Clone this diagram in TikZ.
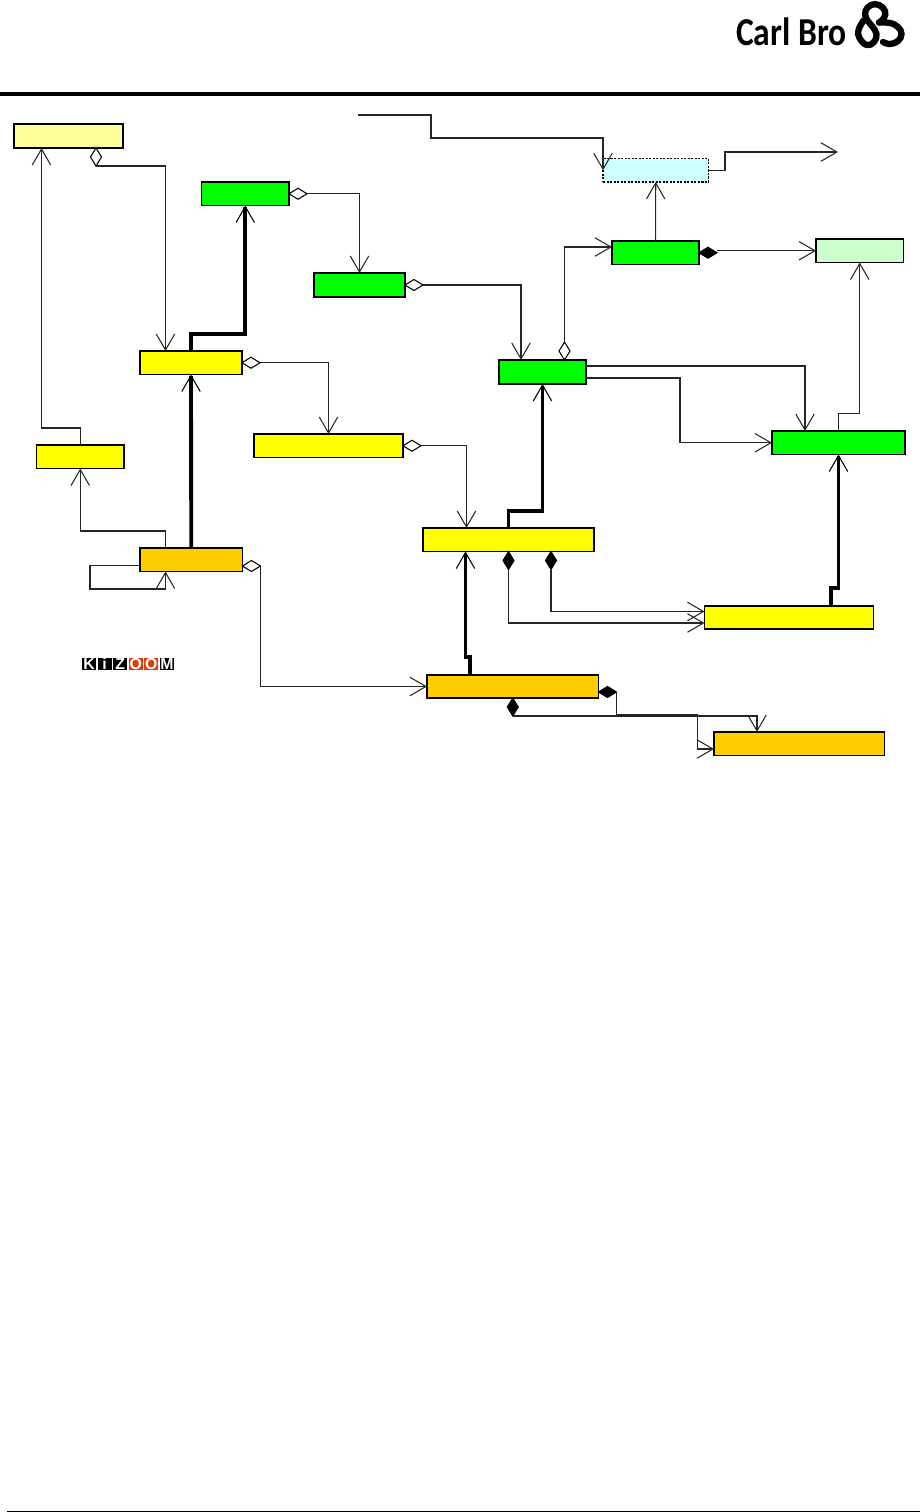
\documentclass[tikz,border=0pt]{standalone}
\usepackage{fontspec}
\newfontfamily\logofont{Carlito}
\newfontfamily\tilefont{Liberation Sans}
\usetikzlibrary{arrows.meta,calc,positioning,shapes.geometric}
\definecolor{palebox}{HTML}{FFFF99}
\definecolor{greenbox}{HTML}{00FF00}
\definecolor{yellowbox}{HTML}{FFFF00}
\definecolor{orangebox}{HTML}{FFCC00}
\definecolor{cyanbox}{HTML}{CCFFFF}
\definecolor{mintbox}{HTML}{CCFFCC}
\definecolor{tilered}{HTML}{D84010}
\tikzset{>={Straight Barb[length=.32cm,width=.37cm,line width=.6pt]},
  classbox/.style={draw=black,line width=.6pt,inner sep=0pt,outer sep=0pt,minimum height=.47cm},
  link/.style={->,draw=black!85,line width=.6pt},
  heavy/.style={->,draw=black,line width=2.2pt},
  dia/.style={shape=diamond,draw=black,line width=.6pt,inner sep=0pt,outer sep=0pt},
  hdia/.style={dia,minimum width=.36cm,minimum height=.22cm},
  vdia/.style={dia,minimum width=.22cm,minimum height=.36cm},
  tile/.style={fill=black,text=white,inner sep=0pt,outer sep=0pt,minimum width=.28cm,minimum height=.25cm,
    font=\tilefont\bfseries\fontsize{9}{9}\selectfont},
  mark line/.style={line width=3.6pt,line cap=round}}

\begin{document}
\begin{tikzpicture}[x=.02cm,y=-.02cm]
\useasboundingbox (0,0) rectangle (920,1512);
\node[anchor=base east,inner sep=0pt,xscale=.85,transform shape,font=\logofont\bfseries\fontsize{22.5}{22.5}\selectfont] (carlbro) at (847,45.7) {Carl Bro};
\draw[mark line] plot[smooth,tension=.7] coordinates {(863.5,20.5) (858.5,30) (859.5,38) (866.7,45) (874,42) (876.5,34) (872,26) (866.5,19) (865.5,11) (871,5) (879,5) (885,11) (884,18) (879,22.5)};
\draw[mark line] plot[smooth,tension=.7] coordinates {(879,22.5) (890,23) (898,27) (901.5,34) (898,41) (890,44) (883,42)};
\draw[line width=1.9pt] (0,94)--(920,94);
\draw[line width=.8pt] (7,1511.3)--(920,1511.3);

\node[classbox,fill=palebox,minimum width=2.18cm,minimum height=.48cm] (pale) at (68.5,136) {};
\node[classbox,fill=greenbox,minimum width=1.75cm] (greenA) at (245.25,193.75) {};
\node[classbox,fill=yellowbox,minimum width=2.04cm] (yellowB) at (191,362.75) {};
\node[classbox,fill=greenbox,minimum width=1.82cm,minimum height=.48cm] (greenC) at (359.5,285) {};
\node[classbox,fill=greenbox,minimum width=1.74cm,minimum height=.48cm] (greenD) at (542.5,372) {};
\node[classbox,fill=cyanbox,dash pattern=on 1.2pt off .8pt,minimum width=2.11cm] (virtual) at (655.75,170.25) {};
\node[classbox,fill=greenbox,minimum width=1.74cm] (greenE) at (655.5,252.75) {};
\node[classbox,fill=mintbox,minimum width=1.75cm] (mint) at (859.75,250.75) {};
\node[classbox,fill=greenbox,minimum width=2.66cm] (greenF) at (838.5,442.75) {};
\node[classbox,fill=yellowbox,minimum width=1.75cm] (yellowG) at (80.25,456.75) {};
\node[classbox,fill=orangebox,minimum width=2.05cm] (orangeH) at (191.25,559.75) {};
\node[classbox,fill=yellowbox,minimum width=2.98cm] (yellowI) at (328.5,445.75) {};
\node[classbox,fill=yellowbox,minimum width=3.42cm] (yellowJ) at (508.5,539.75) {};
\node[classbox,fill=yellowbox,minimum width=3.38cm,minimum height=.46cm] (yellowK) at (789,617.5) {};
\node[classbox,fill=orangebox,minimum width=3.43cm,minimum height=.46cm] (orangeL) at (512.75,686.5) {};
\node[classbox,fill=orangebox,minimum width=3.41cm] (orangeM) at (799.25,743.75) {};

\node[vdia,anchor=north] (dmPale) at ($(pale.south)+(27.5,0)$) {};
\node[hdia,anchor=west] (dmA) at (greenA.east) {};
\node[hdia,anchor=west] (dmB) at (yellowB.east) {};
\node[hdia,anchor=west] (dmC) at (greenC.east) {};
\node[vdia,anchor=south] (dmD) at ($(greenD.north)+(22,0)$) {};
\node[hdia,fill=black,anchor=west] (dmE) at (greenE.east) {};
\node[hdia,anchor=west] (dmI) at (yellowI.east) {};
\node[hdia,anchor=west] (dmH) at ($(orangeH.east)+(0,6.25)$) {};
\node[vdia,fill=black,anchor=north] (dmJa) at (yellowJ.south) {};
\node[vdia,fill=black,anchor=north] (dmJb) at ($(yellowJ.south)+(42.5,0)$) {};
\node[vdia,fill=black,anchor=north] (dmLa) at (orangeL.south) {};
\node[hdia,fill=black,anchor=west] (dmLb) at ($(orangeL.east)+(0,5.5)$) {};

\coordinate (feedIn) at (358,115);
\coordinate (feedOut) at (838,152);

\draw[link] (yellowG.north)--++(0,-17) -| ($(pale.south)+(-27,0)$);
\draw[link] (dmPale.south) -| ($(yellowB.north)+(-25.5,0)$);
\draw[heavy] (yellowB.north)--++(0,-17) -| (greenA.south);
\draw[link] (dmA.east) -| (greenC.north);
\draw[link] (dmC.east) -| ($(greenD.north)+(-21.5,0)$);
\draw[link] (dmD.north) |- ($(greenE.west)+(0,-5.75)$);
\draw[link] (greenE.north)--(virtual.south);
\draw[link] (mint.west -| dmE.east)--(mint.west);
\draw[link] (feedIn)--++(73,0)--++(0,23) -| (virtual.west);
\draw[link] (virtual.east)--++(16.5,0) |- (feedOut);
\draw[link] ($(greenD.east)+(0,-6)$) -| ($(greenF.north)+(-33.5,0)$);
\draw[link] ($(greenD.east)+(0,6)$)--++(94,0) |- (greenF.west);
\draw[link] (greenF.north)--++(0,-17.5) -| (mint.south);
\draw[heavy] ($(yellowK.north)+(42,0)$)--++(0,-18) -| (greenF.south);
\draw[heavy] (yellowJ.north)--++(0,-17) -| (greenD.south);
\draw[link] (dmJa.south) |- ($(yellowK.west)+(0,5.5)$);
\draw[link] (dmJb.south) |- ($(yellowK.west)+(0,-6)$);
\draw[link] (dmI.east) -| ($(yellowJ.north)+(-42,0)$);
\draw[link] (dmB.east) -| (yellowI.north);
\draw[heavy] (orangeH.north)--(yellowB.south);
\draw[link] ($(orangeH.north)+(-25.75,0)$)--++(0,-17) -| (yellowG.south);
\draw[link] ($(orangeH.west)+(0,5.75)$)--++(-50,0)--++(0,23.5) -| ($(orangeH.south)+(-25.75,0)$);
\draw[link] (dmH.east) |- (orangeL.west);
\draw[heavy] ($(orangeL.north)+(-42.75,0)$)--++(0,-18) -| ($(yellowJ.south)+(-43,0)$);
\draw[link] (dmLa.south) -| ($(orangeM.north)+(-42.25,0)$);
\draw[link] (dmLb.east)--++(0,23)--++(81,0) |- ($(orangeM.west)+(0,5.25)$);

\node[tile,anchor=north west] (tileK) at (82,657.7) {K};
\node[tile,right=.032cm of tileK] (tileI) {i};
\node[tile,right=.032cm of tileI] (tileZ) {Z};
\node[tile,fill=tilered,right=.032cm of tileZ] (tileO) {O};
\node[tile,fill=tilered,right=.032cm of tileO] (tileOO) {O};
\node[tile,right=.032cm of tileOO] (tileM) {M};
\end{tikzpicture}
\end{document}
